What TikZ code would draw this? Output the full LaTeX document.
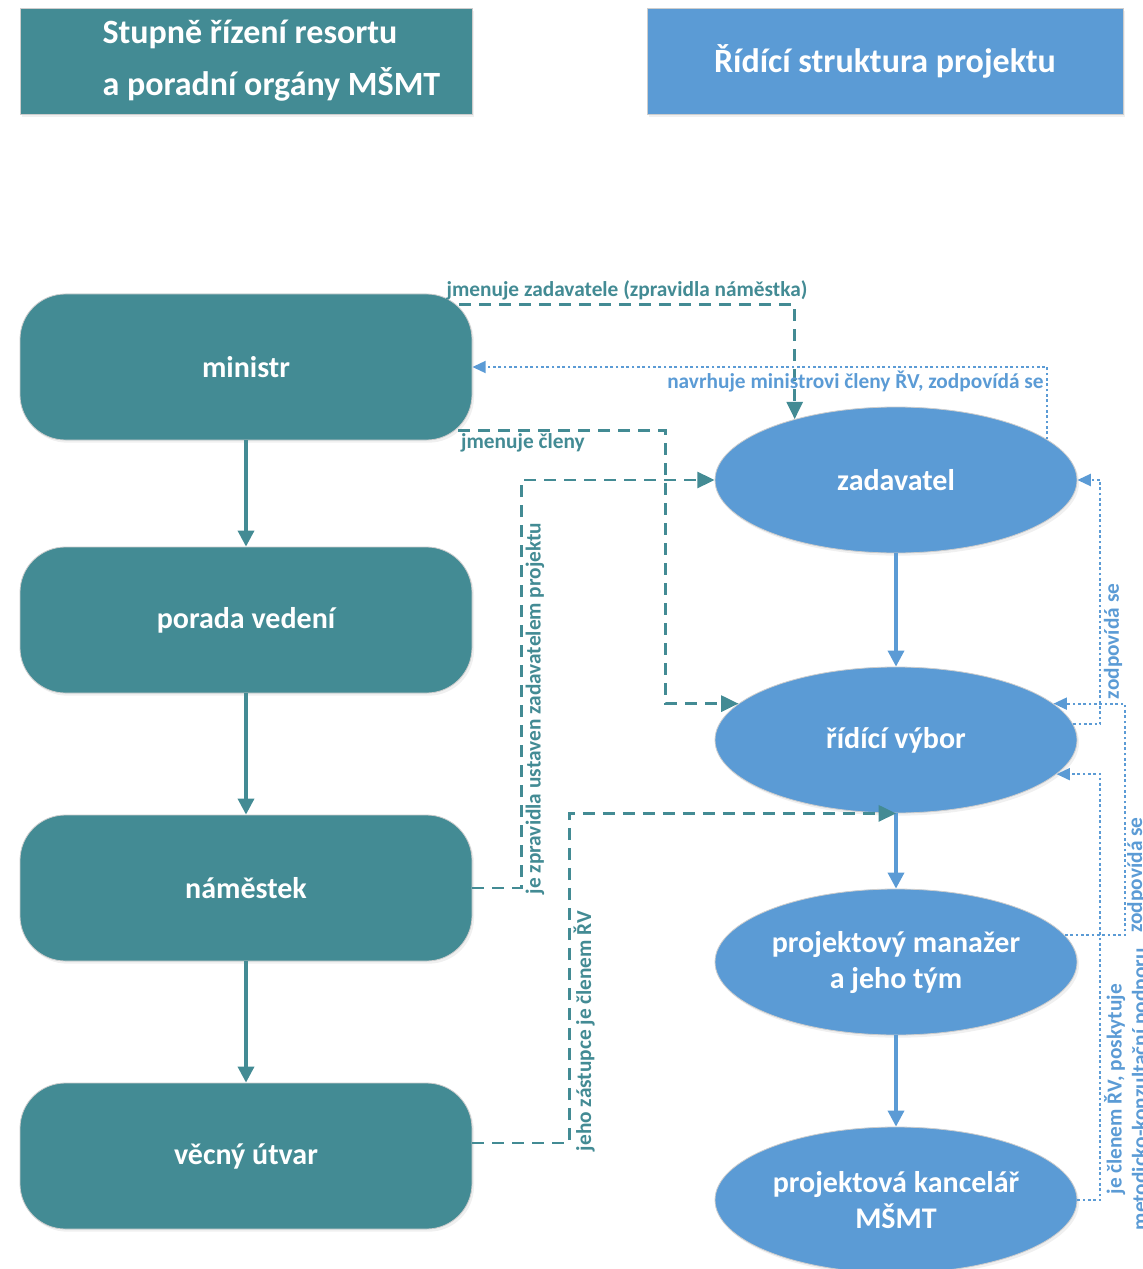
\documentclass[tikz,border=0pt]{standalone}
\usepackage{fontspec}
\setmainfont{Carlito}
\usepackage{tikz}
\usetikzlibrary{arrows.meta}
\usetikzlibrary{calc}
\usetikzlibrary{positioning}
\usetikzlibrary{shapes.geometric}
\usetikzlibrary{shadows}
\definecolor{resortteal}{RGB}{67,139,148}
\definecolor{projblue}{RGB}{91,155,213}
\definecolor{edgegray}{RGB}{205,205,205}
\newcommand{\stepwidth}{339pt}
\newcommand{\stepheight}{109.5pt}
\newcommand{\ovalwidth}{271.5pt}
\newcommand{\ovalheight}{109.5pt}
\tikzset{
    common/.style={draw=edgegray, line width=0.6pt, text=white, align=center,
        font=\fontsize{22.5}{27}\selectfont\bfseries,
        drop shadow={shadow xshift=1.5pt, shadow yshift=-2pt, opacity=0.12}},
    stepbox/.style={common, rectangle, rounded corners=34pt, fill=resortteal,
        minimum width=\stepwidth, minimum height=\stepheight},
    oval/.style={common, ellipse, fill=projblue, inner sep=0pt,
        minimum width=\ovalwidth, minimum height=\ovalheight},
    header/.style={common, rectangle, minimum height=79.5pt, font=\fontsize{25.5}{30}\selectfont\bfseries},
    hdrtext/.style={text=white, align=left, inner sep=0pt, font=\fontsize{25.5}{39}\selectfont\bfseries},
    flow/.style={-{Triangle[length=12pt, width=12pt]}, line width=2.6pt},
    appoint/.style={-{Triangle[length=13pt, width=12pt]}, resortteal, line width=2.2pt, dash pattern=on 9pt off 6pt},
    report/.style={-{Triangle[length=10pt, width=9pt]}, projblue, line width=1.5pt, dash pattern=on 2pt off 2pt},
    lbl/.style={font=\fontsize{16}{19}\selectfont\bfseries, inner sep=2pt}
}

\begin{document}
\begin{tikzpicture}[x=0.75pt, y=-0.75pt]
    \useasboundingbox (0,0) rectangle (1142,1269);

    % headers
    \node[header, fill=resortteal, minimum width=339pt] (hdrsteps) at (246,61) {};
    \node[hdrtext, right=62pt of hdrsteps.west] (hdrstepstext) {Stupně řízení resortu\\a poradní orgány MŠMT};
    \node[header, fill=projblue, minimum width=357pt] (hdrproject) at (885,61) {Řídící struktura projektu};

    % resort
    \node[stepbox] (ministr) at (246,367) {ministr};
    \node[stepbox] (porada) at (246,620) {porada vedení};
    \node[stepbox] (namestek) at (246,888) {náměstek};
    \node[stepbox] (vecny) at (246,1156) {věcný útvar};

    % project
    \node[oval] (zadavatel) at (896,480) {zadavatel};
    \node[oval] (rv) at (896,740) {řídící výbor};
    \node[oval] (pm) at (896,962) {projektový manažer\\a jeho tým};
    \node[oval] (pk) at (896,1200) {projektová kancelář\\MŠMT};

    \draw[flow, resortteal]
      (ministr) edge (porada)
      (porada) edge (namestek)
      (namestek) edge (vecny);
    \draw[flow, projblue]
      (zadavatel) edge (rv)
      (rv) edge (pm)
      (pm) edge (pk);

    \draw[appoint] (ministr.north east) ++(-13,11) -| (zadavatel.149)
      node[pos=0.25, above, lbl] {jmenuje zadavatele (zpravidla náměstka)};
    \draw[appoint] (ministr.south east) ++(-14,-10) node[below right, lbl, inner sep=1pt] {jmenuje členy}
      -| ($(rv.167)+(-73,0)$) -- (rv.167);
    \draw[appoint] (namestek.east) -- ++(49,0) |- (zadavatel.west)
      node[pos=0.22, rotate=90, below, lbl] {je zpravidla ustaven zadavatelem projektu};
    \draw[appoint] (vecny.east) ++(0,-13) -- ++(97,0) |- (rv.south)
      node[pos=0.17, rotate=90, below, lbl] {jeho zástupce je členem ŘV};

    \draw[report] (zadavatel.15) |- (ministr.east)
      node[pos=0.5, below left, lbl] {navrhuje ministrovi členy ŘV, zodpovídá se};
    \draw[report] (rv.5) -- ++(27,0) |- (zadavatel.east)
      node[pos=0.17, rotate=90, below, lbl] {zodpovídá se};
    \draw[report] (pm.9) -- ++(60,0) |- (rv.13)
      node[pos=0.13, rotate=90, below, lbl, inner sep=1pt] {zodpovídá se};
    \draw[report] (pk.east) -- ++(23,0) |- (rv.-12)
      node[pos=0.13, rotate=90, below, lbl, align=center] {je členem ŘV, poskytuje\\metodicko-konzultační podporu};
\end{tikzpicture}
\end{document}
